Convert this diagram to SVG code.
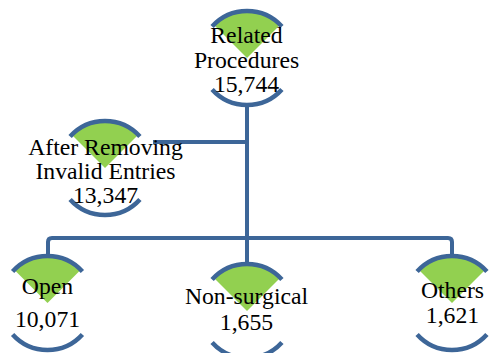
<svg xmlns="http://www.w3.org/2000/svg" width="491" height="353" viewBox="0 0 491 353">
<style>
.conn{fill:none;stroke:#3D6698;stroke-width:4;stroke-linejoin:round}
.arc{fill:none;stroke:#3D6698;stroke-width:4.5}
.wedge{fill:#92D050}
.t{font-family:'Liberation Serif','DejaVu Serif',serif;font-size:23.7px;fill:#000;text-anchor:middle}
</style>
<defs>
<g id="shape">
<path class="wedge" d="M0,0 L-33,-33 A46.5,46.5 0 0 1 33,-33 Z"/>
<path class="arc" d="M-34.9,-31.4 A47,47 0 0 1 34.9,-31.4"/>
<path class="arc" d="M-34.9,31.4 A47,47 0 0 0 34.9,31.4"/>
</g>
</defs>
<rect width="491" height="353" fill="#fff"/>
<g id="connectors">
<path class="conn" d="M247,104 V264"/>
<path class="conn" d="M247,142 H153"/>
<path class="conn" d="M48,262 V242 Q48,238 52,238 H448 Q452,238 452,242 V262"/>
</g>
<g id="node-related" class="t">
<use href="#shape" x="247" y="58"/>
<text x="246.5" y="43">Related</text>
<text x="246.5" y="67.5">Procedures</text>
<text x="246.5" y="92">15,744</text>
</g>
<g id="node-after" class="t">
<use href="#shape" x="105" y="168"/>
<text x="105.5" y="155">After Removing</text>
<text x="105.5" y="178.5">Invalid Entries</text>
<text x="105.5" y="203">13,347</text>
</g>
<g id="node-open" class="t">
<use href="#shape" x="47.5" y="303"/>
<text x="47.5" y="293.5">Open</text>
<text x="47.5" y="327">10,071</text>
</g>
<g id="node-nonsurgical" class="t">
<use href="#shape" x="247" y="311"/>
<text x="246.5" y="303.5">Non-surgical</text>
<text x="246.5" y="329.5">1,655</text>
</g>
<g id="node-others" class="t">
<use href="#shape" x="452" y="303"/>
<text x="452.5" y="298">Others</text>
<text x="452.5" y="322.5">1,621</text>
</g>
</svg>
